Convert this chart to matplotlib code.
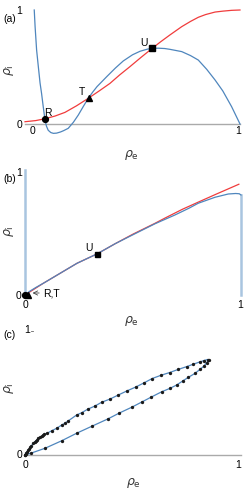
import matplotlib
matplotlib.use("Agg")
import matplotlib.pyplot as plt

plt.rcParams['font.family'] = ['Liberation Sans', 'DejaVu Sans']

# ---------------- data ----------------
# panel (a): nullclines
a_red_x = [0.0, 0.05, 0.093, 0.14, 0.186, 0.24, 0.294, 0.345, 0.395, 0.44, 0.488, 0.54,
           0.592, 0.63, 0.674, 0.729, 0.77, 0.806, 0.84, 0.884, 0.92, 0.961, 1.0]
a_red_y = [0.02, 0.03, 0.046, 0.07, 0.102, 0.16, 0.225, 0.29, 0.356, 0.43, 0.503, 0.585,
           0.664, 0.72, 0.781, 0.854, 0.90, 0.936, 0.96, 0.982, 0.99, 0.997, 1.0]
a_blue_x = [0.043, 0.047, 0.05, 0.054, 0.062, 0.070, 0.077, 0.085, 0.093, 0.1, 0.108, 0.12,
            0.132, 0.147, 0.165, 0.18, 0.201, 0.225, 0.248, 0.27, 0.294, 0.315, 0.335, 0.380,
            0.42, 0.457, 0.5, 0.535, 0.57, 0.597, 0.62, 0.65, 0.674, 0.729, 0.77, 0.806,
            0.845, 0.884, 0.92, 0.961, 1.0]
a_blue_y = [1.0, 0.853, 0.766, 0.649, 0.503, 0.36, 0.269, 0.149, 0.035, -0.02, -0.055, -0.075,
            -0.082, -0.08, -0.07, -0.058, -0.038, 0.015, 0.079, 0.15, 0.225, 0.28, 0.328, 0.415,
            0.49, 0.553, 0.607, 0.638, 0.657, 0.664, 0.665, 0.662, 0.655, 0.635, 0.60, 0.561,
            0.48, 0.386, 0.29, 0.152, 0.0]
a_points = {'R': (0.093, 0.044), 'T': (0.298, 0.23), 'U': (0.592, 0.664)}

# panel (b)
b_blue_x = [0.0, 0.02, 0.05, 0.085, 0.163, 0.241, 0.335, 0.417, 0.509, 0.602, 0.694, 0.76,
            0.802, 0.88, 0.941, 0.975, 0.992, 1.0]
b_blue_y = [0.0, 0.028, 0.06, 0.094, 0.174, 0.254, 0.33, 0.41, 0.49, 0.57, 0.64, 0.695,
            0.734, 0.782, 0.808, 0.812, 0.81, 0.80]
b_red_x = [0.0, 0.085, 0.163, 0.241, 0.335, 0.417, 0.5, 0.6, 0.651, 0.729, 0.806, 0.884, 0.99]
b_red_y = [0.0, 0.094, 0.174, 0.254, 0.33, 0.41, 0.487, 0.572, 0.618, 0.686, 0.746, 0.806, 0.886]
b_edge_left_y = [0.0, 1.0]
b_edge_right_y = [0.80, 0.0]
b_U = (0.332, 0.33)

# panel (c): limit cycle (lower branch out, upper branch back)
c_x = [0.0, 0.03, 0.093, 0.170, 0.239, 0.312, 0.383, 0.437, 0.494, 0.543, 0.583, 0.633,
       0.671, 0.702, 0.730, 0.756, 0.787, 0.810, 0.829, 0.841, 0.853,
       0.845, 0.829, 0.81, 0.78, 0.75, 0.71, 0.67, 0.63, 0.589, 0.552, 0.513, 0.471,
       0.432, 0.394, 0.355, 0.324, 0.290, 0.262, 0.239, 0.201, 0.185, 0.170, 0.147,
       0.124, 0.101, 0.09, 0.085, 0.078, 0.07, 0.062, 0.055, 0.05, 0.045, 0.038,
       0.03, 0.025, 0.02, 0.015, 0.01, 0.006, 0.003, 0.0]
c_y = [0.0, 0.016, 0.054, 0.114, 0.174, 0.232, 0.288, 0.336, 0.382, 0.426, 0.462, 0.506,
       0.533, 0.56, 0.592, 0.621, 0.653, 0.685, 0.712, 0.739, 0.762,
       0.764, 0.756, 0.745, 0.727, 0.708, 0.685, 0.66, 0.638, 0.612, 0.578, 0.544, 0.512,
       0.48, 0.448, 0.422, 0.392, 0.366, 0.338, 0.32, 0.274, 0.254, 0.24, 0.214,
       0.194, 0.173, 0.165, 0.16, 0.152, 0.143, 0.133, 0.122, 0.113, 0.105, 0.093,
       0.074, 0.062, 0.05, 0.04, 0.028, 0.018, 0.01, 0.0]

# ---------------- styling ----------------
BLUE = '#4f86bd'
LBLUE = '#a9c5e0'
RED = '#f03c3c'
GRAY = '#aaaaaa'
FS = 7.5
W, H = 249, 490

fig = plt.figure(figsize=(W / 100, H / 100), dpi=100)


def px_axes(x0, x1, ytop, ybot):
    ax = fig.add_axes([x0 / W, 1 - ybot / H, (x1 - x0) / W, (ybot - ytop) / H])
    ax.set_xlim(0, 1)
    ax.set_ylim(0, 1)
    ax.axis('off')
    return ax


def ft(x, y, s, **kw):
    kw.setdefault('fontsize', FS)
    kw.setdefault('ha', 'center')
    kw.setdefault('va', 'center')
    fig.text(x / W, 1 - y / H, s, **kw)


# ---------- (a) ----------
ax = px_axes(25, 240, 10, 124)
ax.plot([0, 1], [0, 0], color=GRAY, lw=1.0, clip_on=False, zorder=1)
ax.plot(a_red_x, a_red_y, color=RED, lw=0.9, clip_on=False, zorder=2)
ax.plot(a_blue_x, a_blue_y, color=BLUE, lw=0.9, clip_on=False, zorder=3)
ax.plot(*a_points['R'], 'o', color='black', ms=4.2, clip_on=False, zorder=5)
ax.plot(*a_points['T'], '^', color='black', ms=4.2, clip_on=False, zorder=5)
ax.plot(*a_points['U'], 's', color='black', ms=3.8, clip_on=False, zorder=5)
ft(48, 113, 'R')
ft(81.5, 92, 'T')
ft(144, 43, 'U')
ft(9.5, 18.5, '(a)')
ft(19, 11, '1')
ft(19, 125, '0')
ft(32.3, 131, '0')
ft(238, 131, '1')
ft(131, 155, r'$\rho_\mathrm{e}$', fontsize=9, color='#333333')
ft(9, 70, r'$\rho_\mathrm{i}$', fontsize=9, color='#333333', rotation=90)

# ---------- (b) ----------
ax = px_axes(25, 241, 170, 295)
ax.plot([0, 0], b_edge_left_y, color=LBLUE, lw=1.8, clip_on=False, zorder=1)
ax.plot([1, 1], b_edge_right_y, color=LBLUE, lw=1.8, clip_on=False, zorder=1)
ax.plot(b_red_x, b_red_y, color=RED, lw=0.9, clip_on=False, zorder=2)
ax.plot(b_blue_x, b_blue_y, color=BLUE, lw=0.9, clip_on=False, zorder=3)
ax.plot(0.0, 0.0, 'o', color='black', ms=4.2, clip_on=False, zorder=5)
ax.plot(0.012, 0.0, '^', color='black', ms=4.2, clip_on=False, zorder=5)
ax.plot(*b_U, 's', color='black', ms=3.6, clip_on=False, zorder=5)
ax.annotate('R,T', xy=(0.035, 0.016), xytext=(0.085, 0.016), fontsize=FS,
            ha='left', va='center', annotation_clip=False,
            arrowprops=dict(arrowstyle='->', lw=0.6, color='#444444',
                            shrinkA=1, shrinkB=0))
ft(89.3, 248, 'U')
ft(9.5, 178.5, '(b)')
ft(19, 172.5, '1')
ft(18.5, 296, '0')
ft(25, 305, '0')
ft(240, 305, '1')
ft(131, 321, r'$\rho_\mathrm{e}$', fontsize=9, color='#333333')
ft(9, 231, r'$\rho_\mathrm{i}$', fontsize=9, color='#333333', rotation=90)

# ---------- (c) ----------
ax = px_axes(25, 241, 330, 455)
ax.plot([0, 1], [0, 0], color=GRAY, lw=1.0, clip_on=False, zorder=1)
ax.plot(c_x, c_y, color=BLUE, lw=0.9, clip_on=False, zorder=2)
ax.plot(c_x, c_y, 'o', color='#1a1a1a', ms=2.4, mew=0, clip_on=False, zorder=3)
ft(9.5, 335, '(c)')
ft(27.5, 330, '1')
fig.add_artist(plt.Line2D([30.5 / W, 32.5 / W], [1 - 331 / H, 1 - 331 / H],
                          color='#666666', lw=0.6))
ft(19, 455, '0')
ft(25, 465, '0')
ft(238.5, 465, '1')
ft(133, 483, r'$\rho_\mathrm{e}$', fontsize=9, color='#333333')
ft(9, 388, r'$\rho_\mathrm{i}$', fontsize=9, color='#333333', rotation=90)

fig.savefig('out.png', dpi=100)
